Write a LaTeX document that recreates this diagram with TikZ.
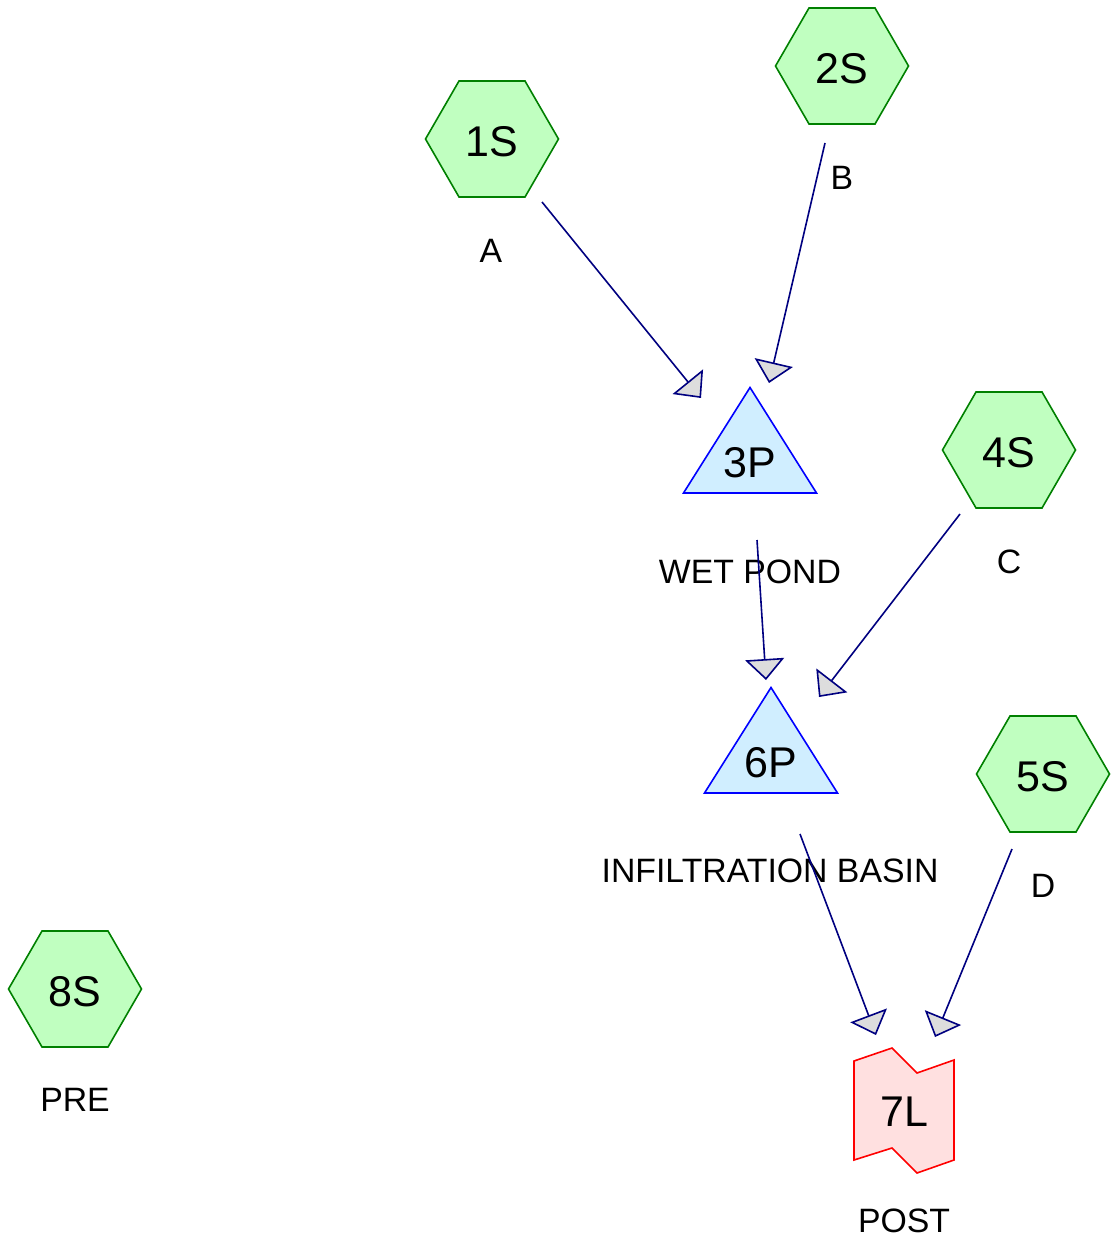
\documentclass[tikz,border=0pt]{standalone}
\usepackage{fontspec}
\setmainfont{Liberation Sans}
\usetikzlibrary{arrows.meta,backgrounds}
\definecolor{hexfill}{HTML}{C0FFC0}
\definecolor{hexline}{HTML}{008000}
\definecolor{pondfill}{HTML}{D0EEFF}
\definecolor{pondline}{HTML}{0000FF}
\definecolor{linkfill}{HTML}{FFE0E0}
\definecolor{linkline}{HTML}{FF0000}
\definecolor{flowline}{HTML}{000080}
\definecolor{headfill}{HTML}{DDDDDD}

% subcatchment hexagon around a label node
\newcommand\hexaround[1]{%
  \draw[hexshape] ([shift={(-66.5,-3)}]#1.center) -- ++(33.5,-58) -- ++(66,0)
    -- ++(33.5,58) -- ++(-33.5,58) -- ++(-66,0) -- cycle;}
% pond triangle around a label node
\newcommand\pondaround[1]{%
  \draw[pondshape] ([shift={(0,-75.5)}]#1.center) -- ++(66.5,105.5) -- ++(-133,0) -- cycle;}

\begin{document}
\begin{tikzpicture}[x=1pt,y=-1pt,
  idtext/.style={font=\fontsize{43}{43}\selectfont, inner sep=0},
  captext/.style={font=\fontsize{33.8}{33.8}\selectfont, inner sep=0},
  hexshape/.style={draw=hexline, fill=hexfill, line width=1.6pt},
  pondshape/.style={draw=pondline, fill=pondfill, line width=1.6pt},
  linkshape/.style={draw=linkline, fill=linkfill, line width=1.6pt},
  flow/.style={draw=flowline, line width=1.6pt,
    -{Triangle[length=21pt,width=39pt,fill=headfill]}}
]
\useasboundingbox (0,0) rectangle (1110,1241);

% node identifiers
\node[idtext] (n1S) at (492,142) {1S};
\node[idtext] (n2S) at (842,69) {2S};
\node[idtext] (n4S) at (1009,453) {4S};
\node[idtext] (n5S) at (1043,777) {5S};
\node[idtext] (n8S) at (75,992) {8S};
\node[idtext] (n3P) at (750,463) {3P};
\node[idtext] (n6P) at (771,763) {6P};
\node[idtext] (n7L) at (904,1112) {7L};

% captions
\node[captext] (cA) at (491,251) {A};
\node[captext] (cB) at (842,178) {B};
\node[captext] (cC) at (1009,562) {C};
\node[captext] (cD) at (1043,886) {D};
\node[captext] (cPRE) at (75,1100) {PRE};
\node[captext] (cWP) at (750,572) {WET POND};
\node[captext] (cIB) at (770,871) {INFILTRATION BASIN};
\node[captext] (cPOST) at (904,1221) {POST};

% page and shapes behind the identifiers
\begin{scope}[on background layer]
  \fill[white] (0,0) rectangle (1110,1241);
  \hexaround{n1S}
  \hexaround{n2S}
  \hexaround{n4S}
  \hexaround{n5S}
  \hexaround{n8S}
  \pondaround{n3P}
  \pondaround{n6P}
  \draw[linkshape] ([shift={(-50,-51)}]n7L.center) -- ++(38,-13) -- ++(25,25)
    -- ++(37,-13) -- ++(0,100) -- ++(-37,13) -- ++(-25,-25) -- ++(-38,12) -- cycle;
\end{scope}

% connector end points
\coordinate (o1S) at (542,202);  \coordinate (i3Pa) at (701,398);
\coordinate (o2S) at (825,143);  \coordinate (i3Pb) at (769,383);
\coordinate (o3P) at (757,540);  \coordinate (i6Pa) at (766,680);
\coordinate (o4S) at (960,514);  \coordinate (i6Pb) at (819,697);
\coordinate (o6P) at (800,834);  \coordinate (i7La) at (876,1035);
\coordinate (o5S) at (1012,849); \coordinate (i7Lb) at (935,1037);

% flow routing
\draw[flow] (o1S) -- (i3Pa);
\draw[flow] (o2S) -- (i3Pb);
\draw[flow] (o3P) -- (i6Pa);
\draw[flow] (o4S) -- (i6Pb);
\draw[flow] (o6P) -- (i7La);
\draw[flow] (o5S) -- (i7Lb);
\end{tikzpicture}
\end{document}
